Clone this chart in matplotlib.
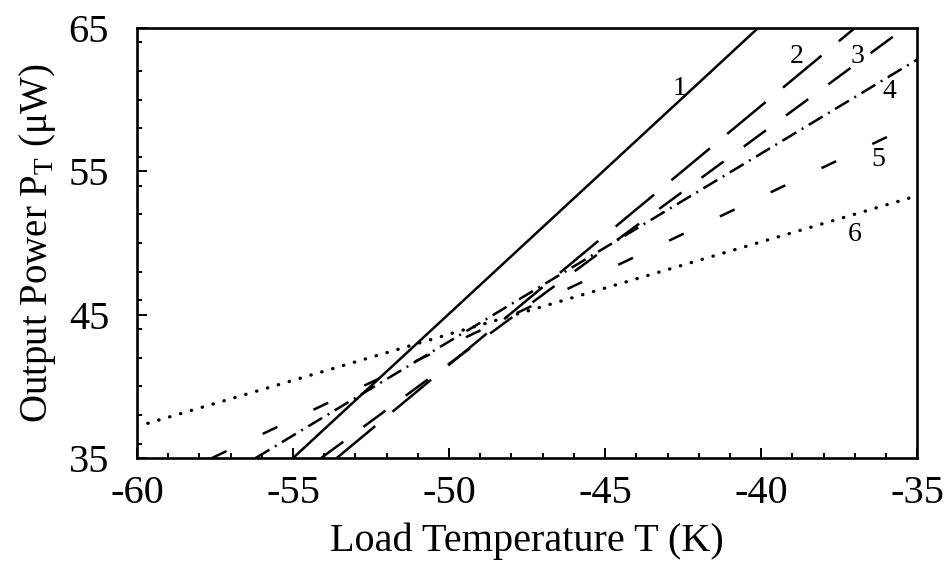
import matplotlib
matplotlib.use("Agg")
import matplotlib.pyplot as plt
from matplotlib.ticker import MultipleLocator

plt.rcParams['font.family'] = ['Liberation Serif', 'DejaVu Serif']
plt.rcParams['mathtext.fontset'] = 'custom'
plt.rcParams['mathtext.rm'] = 'Liberation Serif'

# Kurven 1..6 (Anfangs- und Endpunkte)
curve_names = ["1", "2", "3", "4", "5", "6"]
temp_1 = [-55.0, -40.1]
power_1 = [35.0, 65.0]
temp_2 = [-53.6, -37.0]
power_2 = [35.0, 65.0]
temp_3 = [-54.1, -35.4]
power_3 = [35.0, 65.0]
temp_4 = [-56.2, -35.0]
power_4 = [35.0, 62.8]
temp_5 = [-57.6, -35.0]
power_5 = [35.0, 58.4]
temp_6 = [-60.0, -35.0]
power_6 = [37.2, 53.3]

# Positionen der Kurvennummern
label_temp = [-42.6, -38.85, -36.9, -35.9, -36.25, -37.0]
label_power = [60.8, 63.0, 63.0, 60.6, 55.8, 50.6]

x_ticks = [-60, -55, -50, -45, -40, -35]
y_ticks = [35, 45, 55, 65]

fig = plt.figure(figsize=(9.48, 5.69), dpi=100)
ax = fig.add_axes([0.1445, 0.195, 0.823, 0.7557])

lw = 1.8
ax.plot(temp_1, power_1, color="black", lw=lw, linestyle="-")
ax.plot(temp_2, power_2, color="black", lw=lw, dashes=(20, 9))
ax.plot(temp_3, power_3, color="black", lw=lw, dashes=(11, 10))
ax.plot(temp_4, power_4, color="black", lw=lw, dashes=(6.5, 2.5, 0.8, 2.5))
ax.plot(temp_5, power_5, color="black", lw=lw, dashes=(6.5, 16))
ax.plot(temp_6, power_6, color="black", lw=2.4, dashes=(0.1, 3.3),
        dash_capstyle="round")

for name, t, p in zip(curve_names, label_temp, label_power):
    ax.text(t, p, name, fontsize=20, ha="center", va="center")

ax.set_xlim(-60, -35)
ax.set_ylim(35, 65)
ax.set_xticks(x_ticks)
ax.set_yticks(y_ticks)
ax.set_xticklabels([str(v) for v in x_ticks])
ax.xaxis.set_minor_locator(MultipleLocator(1))
ax.yaxis.set_minor_locator(MultipleLocator(2))

ax.tick_params(which="both", direction="in", top=False, right=False, width=1.4)
ax.tick_params(which="major", length=7)
ax.tick_params(which="minor", length=3.5)
ax.tick_params(axis="x", labelsize=29, pad=12)
ax.tick_params(axis="y", labelsize=29, pad=20)

for s in ax.spines.values():
    s.set_linewidth(1.9)

ax.set_xlabel("Load Temperature T (K)", fontsize=29, labelpad=8)
ax.set_ylabel("Output Power P$_\\mathrm{T}$ (μW)", fontsize=28, labelpad=8)

fig.savefig("out.png", dpi=100)
plt.close(fig)
